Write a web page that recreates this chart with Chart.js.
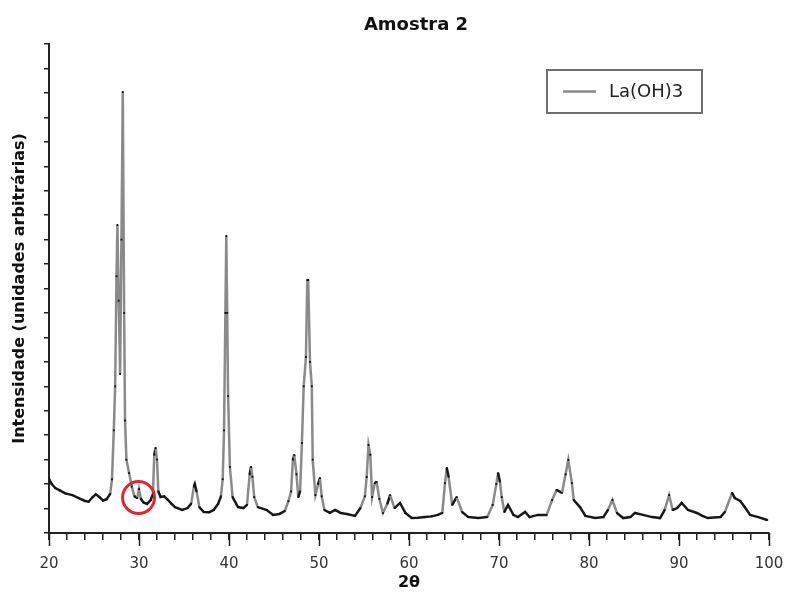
<!DOCTYPE html>
<html>
<head>
<meta charset="utf-8">
<script src="https://cdn.jsdelivr.net/npm/chart.js@4.4.1/dist/chart.umd.min.js"></script>
<style>
html,body{margin:0;padding:0;background:#fff;}
#wrap{width:785px;height:592px;position:relative;}
</style>
</head>
<body>
<div id="wrap"><canvas id="c" width="785" height="592"></canvas></div>
<script>
// ---- data (2θ in degrees, intensity in arbitrary units) ----
const chartTitle = "Amostra 2";
const seriesLabel = "La(OH)3";
const xTitle = "2θ";
const yTitle = "Intensidade (unidades arbitrárias)";

const twoTheta = [
  20.0,20.3,20.7,21.2,21.8,22.6,23.3,24.0,24.4,24.8,25.2,25.6,26.0,26.4,26.8,
  27.0,27.2,27.35,27.5,27.6,27.75,27.9,28.05,28.2,28.35,28.45,28.6,28.9,29.2,29.5,
  29.8,30.0,30.2,30.5,30.9,31.3,31.55,31.7,31.85,32.0,32.15,32.4,32.8,33.2,33.6,
  34.0,34.8,35.4,35.8,36.1,36.2,36.4,36.7,37.2,37.8,38.3,38.8,39.1,39.3,39.45,
  39.6,39.7,39.8,39.9,40.1,40.4,41.0,41.6,42.0,42.3,42.45,42.6,42.8,43.2,44.2,
  44.9,45.6,46.2,46.6,46.9,47.1,47.25,47.5,47.7,47.9,48.1,48.3,48.55,48.7,48.8,
  49.0,49.2,49.3,49.6,49.9,50.1,50.3,50.6,51.2,51.8,52.4,53.1,54.0,54.6,55.1,
  55.3,55.5,55.7,55.9,56.2,56.4,56.7,57.1,57.6,57.9,58.4,59.0,59.6,60.3,61.0,
  61.8,62.5,63.2,63.7,64.0,64.2,64.4,64.8,65.3,65.9,66.6,67.7,68.7,69.3,69.7,
  69.9,70.1,70.3,70.6,71.0,71.6,72.1,72.9,73.4,74.3,75.3,75.9,76.4,77.0,77.4,
  77.7,78.1,78.3,79.0,79.6,80.7,81.6,82.1,82.6,83.1,83.8,84.6,85.1,86.0,87.0,
  87.9,88.4,88.9,89.3,89.8,90.3,91.0,92.0,92.6,93.2,94.6,95.1,95.9,96.2,96.8,
  97.3,97.9,98.8,99.8
];
const intensity = [
  2.22,2.00,1.84,1.74,1.62,1.55,1.43,1.31,1.28,1.45,1.58,1.47,1.33,1.38,1.60,
  2.20,4.20,6.00,10.5,12.6,9.50,6.50,12.0,18.04,9.00,4.60,3.00,2.45,1.90,1.50,
  1.43,1.80,1.40,1.25,1.19,1.35,1.60,3.20,3.48,3.00,1.70,1.47,1.50,1.35,1.20,
  1.06,0.94,1.02,1.20,1.90,2.00,1.70,1.06,0.86,0.85,0.94,1.20,1.50,2.20,4.20,
  9.00,12.15,9.00,5.60,2.70,1.47,1.06,1.02,1.15,2.40,2.70,2.30,1.47,1.06,0.94,
  0.74,0.78,0.90,1.30,1.70,3.00,3.19,2.40,1.47,1.70,3.68,6.00,7.20,10.35,10.35,
  7.00,6.00,3.00,1.55,2.00,2.25,1.50,0.94,0.82,0.94,0.82,0.78,0.70,1.02,1.50,
  2.29,3.60,3.20,1.47,2.04,2.09,1.40,0.82,1.20,1.55,1.02,1.23,0.82,0.61,0.62,
  0.65,0.68,0.74,0.82,2.04,2.66,2.30,1.15,1.47,0.86,0.65,0.61,0.65,1.15,2.00,
  2.45,2.10,1.47,0.86,1.15,0.74,0.65,0.86,0.65,0.74,0.74,1.35,1.76,1.64,2.40,
  2.99,2.04,1.35,1.06,0.70,0.61,0.65,0.94,1.35,0.82,0.61,0.65,0.82,0.74,0.65,
  0.61,0.94,1.55,0.94,1.02,1.23,0.94,0.82,0.70,0.61,0.65,0.86,1.64,1.43,1.31,
  1.06,0.74,0.65,0.53
];
// highlighted (circled) feature in the reference
const circleAt = [29.95, 1.45];
// axis ranges / ticks
const xRange = [20, 100];
const yRange = [0, 20];
const xMinorStep = 2;
const xMajorStep = 10;
const yStep = 1;

const points = twoTheta.map((x, i) => ({ x: x, y: intensity[i] }));

const LINE_GRAY = '#8a8a8a';
const DARK = '#1a1a1a';

const majorTicksPlugin = {
  id: 'majorTicks',
  afterDraw(chart) {
    const xs = chart.scales.x, ctx = chart.ctx;
    const y0 = chart.chartArea.bottom;
    ctx.save();
    ctx.strokeStyle = '#222';
    ctx.lineWidth = 1.5;
    for (let v = xRange[0]; v <= xRange[1]; v += xMajorStep) {
      const px = Math.round(xs.getPixelForValue(v)) + 0.5;
      ctx.beginPath();
      ctx.moveTo(px, y0);
      ctx.lineTo(px, y0 + 13);
      ctx.stroke();
    }
    ctx.restore();
  }
};

const titlePlugin = {
  id: 'topTitle',
  afterDraw(chart) {
    const ctx = chart.ctx;
    const a = chart.chartArea;
    ctx.save();
    ctx.fillStyle = '#111';
    ctx.font = 'bold 18px "DejaVu Sans"';
    ctx.textAlign = 'center';
    ctx.textBaseline = 'middle';
    ctx.fillText(chartTitle, (a.left + a.right) / 2 + 7, 25);
    ctx.restore();
  }
};

const circlePlugin = {
  id: 'circleMark',
  afterDatasetsDraw(chart) {
    const ctx = chart.ctx;
    const cx = chart.scales.x.getPixelForValue(circleAt[0]);
    const cy = chart.scales.y.getPixelForValue(circleAt[1]);
    ctx.save();
    ctx.strokeStyle = '#e8232b';
    ctx.lineWidth = 3;
    ctx.beginPath();
    ctx.arc(cx, cy, 16, 0, Math.PI * 2);
    ctx.stroke();
    ctx.restore();
  }
};

const legendPlugin = {
  id: 'boxLegend',
  afterDraw(chart) {
    const ctx = chart.ctx;
    const x = 547, y = 70, w = 155, h = 43;
    ctx.save();
    ctx.fillStyle = '#fff';
    ctx.fillRect(x, y, w, h);
    ctx.strokeStyle = '#6e6e6e';
    ctx.lineWidth = 2;
    ctx.strokeRect(x, y, w, h);
    ctx.strokeStyle = LINE_GRAY;
    ctx.lineWidth = 2.5;
    ctx.beginPath();
    ctx.moveTo(563, y + h / 2);
    ctx.lineTo(596, y + h / 2);
    ctx.stroke();
    ctx.fillStyle = '#222';
    ctx.font = '18px "DejaVu Sans"';
    ctx.textBaseline = 'middle';
    ctx.fillText(chart.data.datasets[0].label, 609, y + h / 2 + 1);
    ctx.restore();
  }
};

new Chart(document.getElementById('c'), {
  type: 'line',
  data: {
    datasets: [{
      label: seriesLabel,
      data: points,
      borderColor: LINE_GRAY,
      borderWidth: 2.5,
      pointRadius: 1.3,
      pointStyle: 'rect',
      pointBackgroundColor: '#111',
      pointBorderColor: '#111',
      pointBorderWidth: 0,
      tension: 0,
      segment: {
        borderColor: (c) => {
          const dy = Math.abs(c.p1.y - c.p0.y), dx = Math.abs(c.p1.x - c.p0.x);
          return (dy > 9 && dy > 2 * dx) ? LINE_GRAY : DARK;
        }
      }
    }]
  },
  options: {
    responsive: false,
    animation: false,
    events: [],
    layout: { padding: { left: 0, right: 0, top: 44, bottom: 0 } },
    plugins: {
      legend: { display: false },
      tooltip: { enabled: false },
      title: { display: false }
    },
    scales: {
      x: {
        type: 'linear',
        min: xRange[0], max: xRange[1],
        border: { display: true, color: '#222', width: 2 },
        grid: { display: true, drawOnChartArea: false, drawTicks: true, tickLength: 7, color: '#222', lineWidth: 1.5 },
        ticks: {
          stepSize: xMinorStep,
          autoSkip: false,
          maxRotation: 0,
          padding: 15,
          color: '#333',
          font: { family: '"DejaVu Sans"', size: 15 },
          callback: (v) => (v % xMajorStep === 0 ? String(v) : '')
        },
        title: {
          display: true, text: xTitle, color: '#111',
          font: { family: '"DejaVu Sans"', size: 16, weight: 'bold' },
          padding: { top: 0, bottom: 0 }
        },
        afterFit: (s) => { s.height = 59; s.paddingLeft = 0; s.paddingRight = 16; }
      },
      y: {
        type: 'linear',
        min: yRange[0], max: yRange[1],
        border: { display: true, color: '#222', width: 2 },
        grid: { display: true, drawOnChartArea: false, drawTicks: true, tickLength: 5, color: '#222', lineWidth: 1.5 },
        ticks: { stepSize: yStep, display: false },
        title: {
          display: true, text: yTitle, color: '#111',
          font: { family: '"DejaVu Sans"', size: 16, weight: 'bold' },
          padding: { top: 10, bottom: 0 }
        },
        afterFit: (s) => { s.width = 49; s.paddingTop = 0; s.paddingBottom = 0; }
      }
    }
  },
  plugins: [majorTicksPlugin, circlePlugin, legendPlugin, titlePlugin]
});
</script>
</body>
</html>
